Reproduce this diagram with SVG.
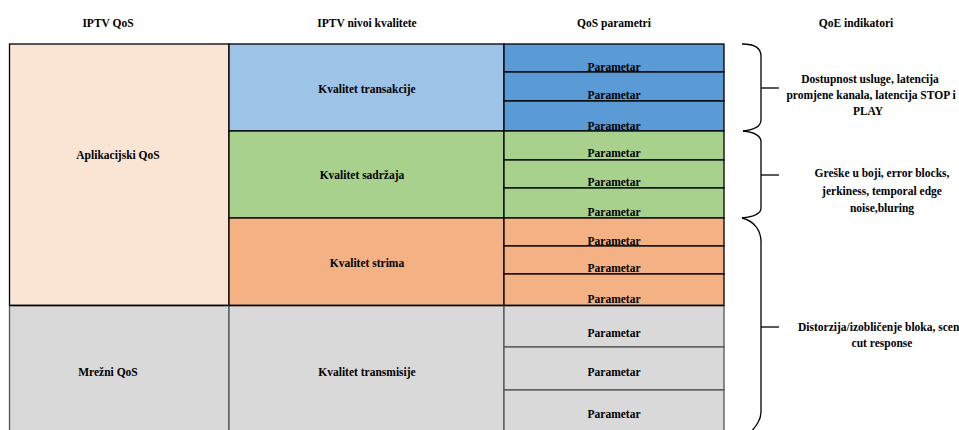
<svg xmlns="http://www.w3.org/2000/svg" width="959" height="430" viewBox="0 0 959 430">
<style>
text{font-family:"Liberation Serif","Times New Roman",serif;font-weight:bold;font-size:11.5px;fill:#000;text-anchor:middle}
.c{stroke:#000;stroke-width:1.3}
.g{stroke:#555;stroke-width:1.3}
.br{fill:none;stroke:#000;stroke-width:1.3}
</style>
<rect width="959" height="430" fill="#fff"/>
<g id="headers">
<text x="108" y="27">IPTV QoS</text>
<text x="367" y="27">IPTV nivoi kvalitete</text>
<text x="614" y="27">QoS parametri</text>
<text x="856" y="27">QoE indikatori</text>
</g>
<g id="aplikacijski">
<rect class="c" x="9.5" y="44" width="219.5" height="261.5" fill="#FAE5D4"/>
<text x="118" y="159">Aplikacijski QoS</text>
</g>
<g id="mrezni">
<rect class="g" x="9.5" y="305.5" width="219.5" height="140" fill="#D9D9D9"/>
<line class="c" x1="9.5" y1="305.5" x2="229" y2="305.5"/>
<text x="108" y="376">Mrežni QoS</text>
</g>
<g id="transakcija">
<rect class="c" x="229" y="44" width="275" height="87" fill="#9DC3E6"/>
<text x="367" y="93">Kvalitet transakcije</text>
</g>
<g id="sadrzaj">
<rect class="c" x="229" y="131" width="275" height="87" fill="#A9D18E"/>
<text x="362" y="179">Kvalitet sadržaja</text>
</g>
<g id="strim">
<rect class="c" x="229" y="218" width="275" height="87.5" fill="#F4B183"/>
<text x="367" y="267">Kvalitet strima</text>
</g>
<g id="transmisija">
<rect class="g" x="229" y="305.5" width="275" height="140" fill="#D9D9D9"/>
<line class="c" x1="229" y1="305.5" x2="504" y2="305.5"/>
<text x="367" y="376">Kvalitet transmisije</text>
</g>
<g id="param-transakcija">
<rect class="c" x="504" y="44" width="220" height="28" fill="#5B9BD5"/>
<rect class="c" x="504" y="72" width="220" height="29" fill="#5B9BD5"/>
<rect class="c" x="504" y="101" width="220" height="30" fill="#5B9BD5"/>
<text x="614" y="71">Parametar</text>
<text x="614" y="99">Parametar</text>
<text x="614" y="130">Parametar</text>
</g>
<g id="param-sadrzaj">
<rect class="c" x="504" y="131" width="220" height="29" fill="#A9D18E"/>
<rect class="c" x="504" y="160" width="220" height="28" fill="#A9D18E"/>
<rect class="c" x="504" y="188" width="220" height="30" fill="#A9D18E"/>
<text x="614" y="157">Parametar</text>
<text x="614" y="186">Parametar</text>
<text x="614" y="216">Parametar</text>
</g>
<g id="param-strim">
<rect class="c" x="504" y="218" width="220" height="28" fill="#F4B183"/>
<rect class="c" x="504" y="246" width="220" height="28" fill="#F4B183"/>
<rect class="c" x="504" y="274" width="220" height="31.5" fill="#F4B183"/>
<text x="614" y="245">Parametar</text>
<text x="614" y="272">Parametar</text>
<text x="614" y="303">Parametar</text>
</g>
<g id="param-transmisija">
<rect class="g" x="504" y="305.5" width="220" height="41.5" fill="#D9D9D9"/>
<rect class="g" x="504" y="347" width="220" height="43" fill="#D9D9D9"/>
<rect class="g" x="504" y="390" width="220" height="55" fill="#D9D9D9"/>
<line class="c" x1="504" y1="305.5" x2="724" y2="305.5"/>
<text x="614" y="337">Parametar</text>
<text x="614" y="376">Parametar</text>
<text x="614" y="418">Parametar</text>
</g>
<g id="connectors">
<path class="br" d="M742,44 C754,44 761,48 761,56 V120 C761,127 752,130 743,131"/>
<line class="br" x1="761" y1="88" x2="779" y2="88"/>
<path class="br" d="M743,131 C752,132 761,135 761,142 V208 C761,214 752,217 742,218"/>
<line class="br" x1="761" y1="175" x2="779" y2="175"/>
<path class="br" d="M742,218 C754,221 761,230 761,242 V412 C761,420 756,426 751,432"/>
<line class="br" x1="761" y1="327" x2="779" y2="327"/>
</g>
<g id="qoe-1">
<text x="870" y="83">Dostupnost usluge, latencija</text>
<text x="871" y="99">promjene kanala, latencija STOP i</text>
<text x="868" y="115">PLAY</text>
</g>
<g id="qoe-2">
<text x="882" y="177">Greške u boji, error blocks,</text>
<text x="882" y="195">jerkiness, temporal edge</text>
<text x="882" y="212">noise,bluring</text>
</g>
<g id="qoe-3">
<text x="798" y="331" style="text-anchor:start">Distorzija/izobličenje bloka, scen</text>
<text x="882" y="347">cut response</text>
</g>
</svg>
